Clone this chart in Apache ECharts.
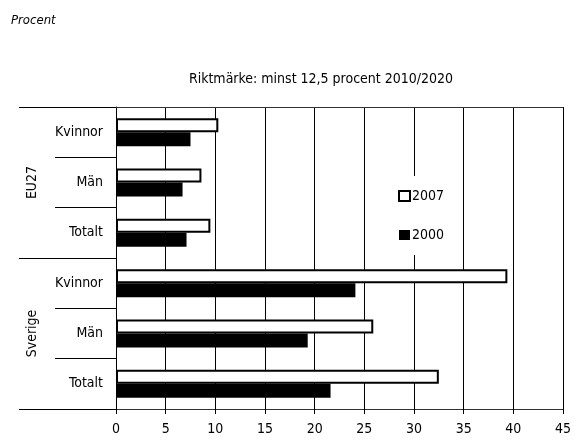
<!DOCTYPE html>
<html><head><meta charset="utf-8">
<script src="https://cdn.jsdelivr.net/npm/echarts@6/dist/echarts.min.js"></script>
<style>html,body{margin:0;padding:0;background:#fff}#c{width:574px;height:441px}</style>
</head><body><div id="c"></div>
<script>
const categories = ['Kvinnor','Män','Totalt','Kvinnor','Män','Totalt'];
const groups = ['EU27','Sverige'];
const values2007 = [10.3, 8.6, 9.5, 39.4, 25.9, 32.5];
const values2000 = [7.5, 6.7, 7.1, 24.1, 19.3, 21.6];
const xTicks = [0,5,10,15,20,25,30,35,40,45];
const FONT = "'Liberation Sans Narrow','DejaVu Sans Condensed','Arial Narrow',sans-serif";

const chart = echarts.init(document.getElementById('c'));
chart.setOption({
  animation: false,
  textStyle: {fontFamily: FONT, color: '#000'},
  title: [
    {text: 'Procent', left: 11, top: 14, padding: 0, textStyle: {fontFamily: FONT, fontSize: 13, fontStyle: 'italic', fontWeight: 'normal', color: '#000'}},
    {text: 'Riktmärke: minst 12,5 procent 2010/2020', left: 316, textAlign: 'center', top: 67, textStyle: {fontFamily: FONT, fontSize: 14, fontWeight: 'normal', color: '#000'}}
  ],
  legend: {
    orient: 'vertical', left: 395, top: 176,
    padding: [13, 8, 13, 3], itemGap: 25, itemWidth: 11, itemHeight: 10,
    backgroundColor: '#fff',
    data: ['2007','2000'],
    textStyle: {fontFamily: FONT, fontSize: 14, color: '#000', padding: [0,0,0,-3]},
    icon: 'rect'
  },
  grid: {left: 116, right: 7, top: 107, bottom: 32, containLabel: false},
  xAxis: [
    {type: 'value', min: 0, max: 45, interval: 5, position: 'bottom',
     axisLine: {show: true, lineStyle: {color: '#333', width: 1}},
     axisTick: {show: true, length: 5, lineStyle: {color: '#000'}},
     axisLabel: {margin: 13, fontSize: 14, color: '#000', fontFamily: FONT,
       formatter: v => xTicks.includes(v) ? String(v) : ''},
     splitLine: {show: true, lineStyle: {color: '#000', width: 1}}},
    {type: 'value', min: 0, max: 45, interval: 5, position: 'top',
     axisLine: {show: true, lineStyle: {color: '#333', width: 1}},
     axisTick: {show: false}, axisLabel: {show: false}, splitLine: {show: false}}
  ],
  yAxis: [
    {type: 'category', data: categories, inverse: true, position: 'left',
     axisLine: {show: true, lineStyle: {color: '#000', width: 1}},
     axisTick: {show: true, length: 61, lineStyle: {color: '#000'}},
     axisLabel: {margin: 13, fontSize: 14, color: '#000', fontFamily: FONT}},
    {type: 'category', data: groups, inverse: true, position: 'left',
     axisLine: {show: false},
     axisTick: {show: true, length: 97, lineStyle: {color: '#000'}},
     axisLabel: {margin: 77, rotate: 90, fontSize: 14, color: '#000', fontFamily: FONT}}
  ],
  series: [
    {name: '2007', type: 'bar', data: values2007, yAxisIndex: 0, barWidth: 14, barGap: '0%',
     itemStyle: {color: '#fff', borderColor: '#000', borderWidth: 2}},
    {name: '2000', type: 'bar', data: values2000, yAxisIndex: 0, barWidth: 14, barGap: '0%',
     itemStyle: {color: '#000'}}
  ]
});
</script></body></html>
